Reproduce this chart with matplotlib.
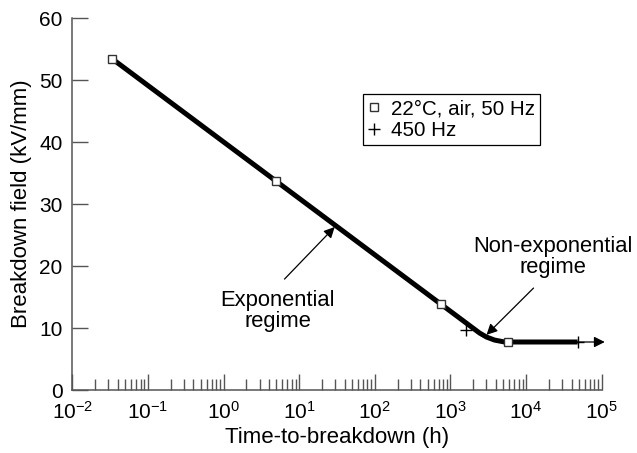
import matplotlib
matplotlib.use("Agg")
import matplotlib.pyplot as plt
import numpy as np

plt.rcParams['font.family'] = ['Liberation Sans', 'DejaVu Sans']
plt.rcParams['mathtext.fontset'] = 'custom'
plt.rcParams['mathtext.rm'] = 'Liberation Sans'
plt.rcParams['mathtext.it'] = 'Liberation Sans'
plt.rcParams['mathtext.default'] = 'regular'

# Data
sq_time = [0.034, 4.9, 742, 5700]          # 22 C, air, 50 Hz
sq_field = [53.4, 33.7, 13.9, 7.75]
plus_time = [1590, 48000]                   # 450 Hz
plus_field = [9.7, 7.75]
curve_time = [0.034, 2430, 3000, 3840, 5200, 48000]
curve_field = [53.4, 9.2, 8.55, 8.06, 7.75, 7.75]
arrow_end_time = 1.1e5

xticks = [1e-2, 1e-1, 1e0, 1e1, 1e2, 1e3, 1e4, 1e5]
xticklabels = [r'$10^{-2}$', r'$10^{-1}$', r'$10^{0}$', r'$10^{1}$',
               r'$10^{2}$', r'$10^{3}$', r'$10^{4}$', r'$10^{5}$']
yticks = [0, 10, 20, 30, 40, 50, 60]

fig = plt.figure(figsize=(6.37, 4.53), dpi=100)
ax = fig.add_axes([0.1135, 0.139, 0.831, 0.821])

spine_col = '#555555'
ax.set_xscale('log')
ax.set_xlim(1e-2, 1e5)
ax.set_ylim(0, 60)

# main fitted curve
ax.plot(curve_time, curve_field, color='black', lw=3.6, solid_joinstyle='round',
        solid_capstyle='butt', zorder=3)
# thin arrow beyond
ax.annotate('', xy=(arrow_end_time, curve_field[-1]), xytext=(curve_time[-1], curve_field[-1]),
            arrowprops=dict(arrowstyle='-|>', color='black', lw=0.9, mutation_scale=16,
                            shrinkA=0, shrinkB=0), zorder=3, annotation_clip=False)

ax.plot(sq_time, sq_field, ls='none', marker='s', ms=6, mfc='white', mec='#333333',
        mew=1.0, zorder=4, label='22°C, air, 50 Hz', clip_on=False)
ax.plot(plus_time, plus_field, ls='none', marker='+', ms=9, mec='black',
        mew=1.0, zorder=4, label='450 Hz', clip_on=False)

# annotations
ax.annotate('', xy=(29.5, 26.3), xytext=(6.4, 17.9),
            arrowprops=dict(arrowstyle='-|>', color='black', lw=0.9, mutation_scale=16,
                            shrinkA=0, shrinkB=0))
ax.text(5.2, 16.1, 'Exponential\nregime', ha='center', va='top', fontsize=15.8,
        linespacing=1.0)
ax.annotate('', xy=(3000, 8.9), xytext=(12560, 16.45),
            arrowprops=dict(arrowstyle='-|>', color='black', lw=0.9, mutation_scale=16,
                            shrinkA=0, shrinkB=0))
ax.text(22900, 21.4, 'Non-exponential\nregime', ha='center', va='center', fontsize=15.8,
        linespacing=1.0)

# axes styling
for s in ['top', 'right']:
    ax.spines[s].set_visible(False)
for s in ['left', 'bottom']:
    ax.spines[s].set_color(spine_col)
    ax.spines[s].set_linewidth(1.1)

ax.set_xticks(xticks)
ax.set_xticklabels(xticklabels)
ax.xaxis.set_minor_locator(matplotlib.ticker.LogLocator(base=10, subs=np.arange(2, 10), numticks=20))
ax.xaxis.set_minor_formatter(matplotlib.ticker.NullFormatter())
ax.set_yticks(yticks)
ax.tick_params(axis='both', which='major', direction='in', length=11.5, width=1.0,
               color=spine_col, labelsize=15, pad=7)
ax.tick_params(axis='x', which='minor', direction='in', length=8, width=1.0, color=spine_col)
ax.tick_params(axis='x', which='major', pad=8)

ax.set_xlabel('Time-to-breakdown (h)', fontsize=16, labelpad=3)
ax.set_ylabel('Breakdown field (kV/mm)', fontsize=16, labelpad=5)

leg = fig.legend(loc='upper left', bbox_to_anchor=(363/637, 1 - 94/453), fontsize=14.8,
                 frameon=True, fancybox=False, edgecolor='black', framealpha=1,
                 handlelength=0.6, handletextpad=0.5, borderpad=0.25, labelspacing=0.15,
                 borderaxespad=0)
leg.get_frame().set_linewidth(0.9)

fig.savefig('out.png', dpi=100)
